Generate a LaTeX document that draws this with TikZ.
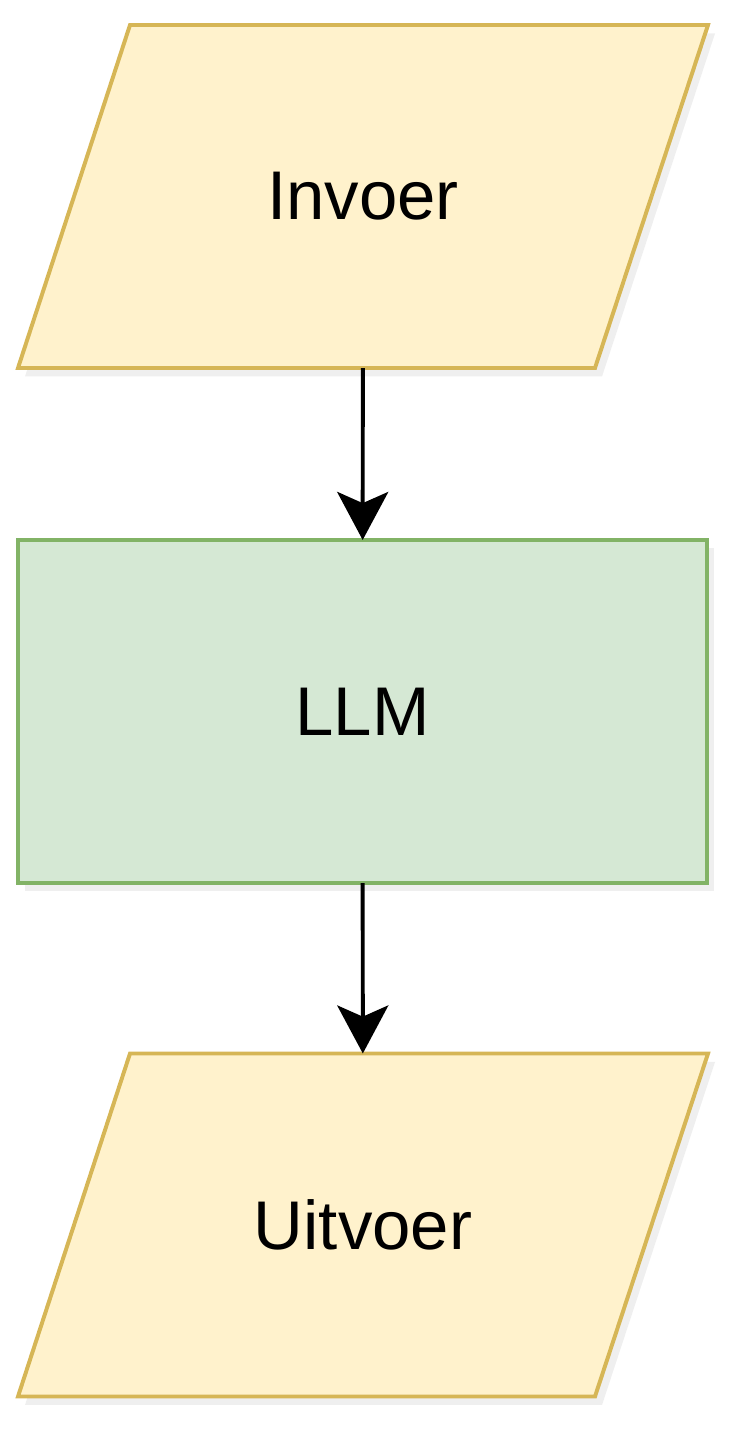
\documentclass[tikz,border=0pt]{standalone}
\usepackage{fontspec}
\setmainfont{Liberation Sans}
\usetikzlibrary{positioning,arrows.meta,shadows}
\definecolor{iofill}{HTML}{FFF2CC}
\definecolor{iodraw}{HTML}{D6B656}
\definecolor{llmfill}{HTML}{D5E8D4}
\definecolor{llmdraw}{HTML}{82B366}

\begin{document}
\begin{tikzpicture}[x=0.025cm, y=-0.025cm,
    shade box/.style={line width=2.8pt, line join=miter,
        drop shadow={opacity=0.13, shadow xshift=5pt, shadow yshift=-6pt}},
    label/.style={outer sep=0pt, font=\fontsize{49}{58}\selectfont,
        minimum width=14.45cm, minimum height=8.575cm},
    flow/.style={line width=2.8pt, -{Stealth[length=1.2cm, width=1.275cm, inset=0.28cm]}}]
    \useasboundingbox (0,0) rectangle (736,1440);

    % Input and output (parallelograms)
    \foreach \n/\y/\t in {in/196.5/Invoer, out/1225/Uitvoer} {
        \filldraw[shade box, fill=iofill, draw=iodraw]
            (18,\y+171.5) -- (595,\y+171.5) -- (708,\y-171.5) -- (130,\y-171.5) -- cycle;
        \node[label] (\n) at (363,\y) {\t};
    }

    % Model
    \node[label, shade box, draw=llmdraw, fill=llmfill, minimum width=17.225cm]
        (llm) at (362.5,711.5) {LLM};

    % Arrows
    \foreach \a/\b in {in/llm, llm/out} {
        \draw[flow] (\a) -- (\b);
    }
\end{tikzpicture}
\end{document}
